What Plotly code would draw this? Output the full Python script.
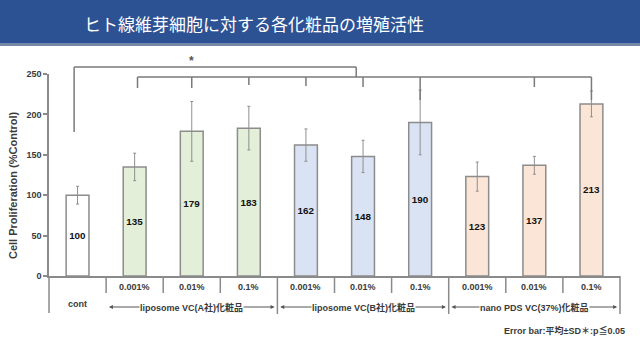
import plotly.graph_objects as go

# --- data -------------------------------------------------------------
categories = ["cont", "0.001%", "0.01%", "0.1%", "0.001%", "0.01%", "0.1%",
              "0.001%", "0.01%", "0.1%"]
values = [100, 135, 179, 183, 162, 148, 190, 123, 137, 213]
errors = [11, 17, 37, 27, 20, 20, 40, 18, 11, 16]
groups = ["liposome VC(A社)化粧品", "liposome VC(B社)化粧品", "nano PDS VC(37%)化粧品"]
group_members = [[1, 2, 3], [4, 5, 6], [7, 8, 9]]
fills = ["#ffffff", "#e3efd9", "#e3efd9", "#e3efd9", "#dae3f3", "#dae3f3",
         "#dae3f3", "#fbe5d6", "#fbe5d6", "#fbe5d6"]
# bars joined to the control by the significance bracket
sig_members = [1, 2, 3, 4, 5, 6, 8, 9]
title_text = "ヒト線維芽細胞に対する各化粧品の増殖活性"
y_title = "Cell Proliferation (%Control)"
note_text = "Error bar:平均±SD＊:p≦0.05"

# --- page geometry ----------------------------------------------------
W, H = 640, 340
L, R, T, B = 49, 20, 74, 64
PW, PH = W - L - R, H - T - B

def py(p):
    """pixel row -> paper y"""
    return (H - B - p) / PH

def pxp(p):
    """pixel column -> paper x"""
    return (p - L) / PW

AXIS = "#8a8a8a"
TXT = "#3a3a3a"
FONT = "Liberation Sans, Arial, Noto Sans CJK JP, sans-serif"
x = list(range(len(values)))

fig = go.Figure()
fig.add_trace(go.Bar(
    x=x, y=values, width=0.4,
    marker=dict(color=fills, line=dict(color="#8c8c8c", width=1.5)),
    error_y=dict(type="data", array=errors, visible=True,
                 color="#8f8f8f", thickness=1, width=1.5),
    text=[str(v) for v in values], textposition="inside",
    insidetextanchor="middle", textangle=0,
    textfont=dict(family=FONT, size=10, color="#111111", weight="bold"),
    hoverinfo="skip", showlegend=False,
))

shapes = []
annotations = []

# title band
shapes.append(dict(type="rect", xref="paper", yref="paper", layer="below",
                   x0=pxp(0), x1=pxp(W), y0=py(43), y1=py(0),
                   fillcolor="#2d5294", line=dict(width=0)))
shapes.append(dict(type="rect", xref="paper", yref="paper", layer="below",
                   x0=pxp(0), x1=pxp(W), y0=py(46), y1=py(43),
                   fillcolor="#7688a8", line=dict(width=0)))
annotations.append(dict(text=title_text, xref="paper", yref="paper",
                        x=pxp(254), y=py(23), showarrow=False,
                        xanchor="center", yanchor="middle",
                        font=dict(family="Noto Sans CJK JP", size=17,
                                  color="#ffffff")))

# y axis line continued below the category axis
shapes.append(dict(type="line", xref="paper", yref="paper",
                   x0=0, x1=0, y0=0, y1=py(313),
                   line=dict(color=AXIS, width=1.5)))

# category separators: short within a group, long between groups
n = len(values)
group_edges = [0] + [g[-1] + 1 for g in group_members]
for k in range(1, n + 1):
    edge = k / n
    long_sep = k in group_edges
    shapes.append(dict(type="line", xref="paper", yref="paper",
                       x0=edge, x1=edge, y0=0, y1=py(314 if long_sep else 293),
                       line=dict(color=AXIS, width=1.5)))

# concentration labels and control label
for i, c in enumerate(categories):
    annotations.append(dict(text=c, xref="x", yref="paper", x=i,
                            y=py(304) if i == 0 else py(287),
                            showarrow=False, yanchor="middle",
                            font=dict(family=FONT, size=9, color=TXT,
                                      weight="bold")))

# group labels with double-headed arrows
for name, members in zip(groups, group_members):
    lo, hi = members[0] - 0.5, members[-1] + 0.5
    mid = (lo + hi) / 2
    for tip in (lo + 0.05, hi - 0.05):
        annotations.append(dict(text="", xref="x", yref="paper", x=tip, y=py(307),
                                ax=mid, ay=0, axref="x", ayref="pixel",
                                showarrow=True, arrowhead=2, arrowsize=0.8,
                                arrowwidth=1, arrowcolor="#555555"))
    annotations.append(dict(text=name, xref="x", yref="paper", x=mid, y=py(307),
                            showarrow=False, yanchor="middle", bgcolor="#ffffff",
                            borderpad=0,
                            font=dict(family=FONT, size=9, color=TXT,
                                      weight="bold")))

# significance bracket
BR = dict(color="#7a7a7a", width=1.5)
top_y, mid_y = py(67), py(77)
right_end = sig_members[len(sig_members) // 2] - 0.12
shapes += [
    dict(type="line", xref="x", yref="paper", x0=0 - 0.06, x1=0 - 0.06,
         y0=py(132), y1=top_y, line=BR),
    dict(type="line", xref="x", yref="paper", x0=0 - 0.06, x1=right_end,
         y0=top_y, y1=top_y, line=BR),
    dict(type="line", xref="x", yref="paper", x0=right_end, x1=right_end,
         y0=top_y, y1=mid_y, line=BR),
    dict(type="line", xref="x", yref="paper", x0=sig_members[0] + 0.05,
         x1=sig_members[-1], y0=mid_y, y1=mid_y, line=BR),
]
drop_px = {1: 88, 2: 88, 3: 85, 4: 86, 5: 87, 6: 100, 8: 87, 9: 100}
for m in sig_members:
    xm = m + 0.05 if m == sig_members[0] else m
    shapes.append(dict(type="line", xref="x", yref="paper", x0=xm, x1=xm,
                       y0=mid_y, y1=py(drop_px[m]), line=BR))
annotations.append(dict(text="*", xref="x", yref="paper", x=2.0, y=py(61),
                        showarrow=False, yanchor="middle",
                        font=dict(family=FONT, size=12, color="#555555",
                                  weight="bold")))

# y axis title and footnote
annotations.append(dict(text=y_title, xref="paper", yref="paper",
                        x=pxp(13), y=py(185), textangle=-90, showarrow=False,
                        xanchor="center", yanchor="middle",
                        font=dict(family=FONT, size=11, color=TXT,
                                  weight="bold")))
annotations.append(dict(text=note_text, xref="paper", yref="paper",
                        x=pxp(627), y=py(330), showarrow=False,
                        xanchor="right", yanchor="middle",
                        font=dict(family=FONT, size=9, color=TXT,
                                  weight="bold")))

fig.update_layout(
    width=W, height=H,
    margin=dict(l=L, r=R, t=T, b=B),
    paper_bgcolor="#ffffff", plot_bgcolor="#ffffff",
    shapes=shapes, annotations=annotations,
    xaxis=dict(range=[-0.5, n - 0.5], showticklabels=False, ticks="",
               showgrid=False, zeroline=False, showline=True,
               linecolor=AXIS, linewidth=1.5, fixedrange=True),
    yaxis=dict(range=[0, 250], tickvals=[0, 50, 100, 150, 200, 250],
               showgrid=False, zeroline=False, showline=True,
               linecolor=AXIS, linewidth=1.5, ticks="outside", ticklen=4,
               tickcolor=AXIS, tickwidth=1.5,
               tickfont=dict(family=FONT, size=9, color=TXT, weight="bold"),
               fixedrange=True),
    bargap=0.6,
)

fig.write_html("out.html")
